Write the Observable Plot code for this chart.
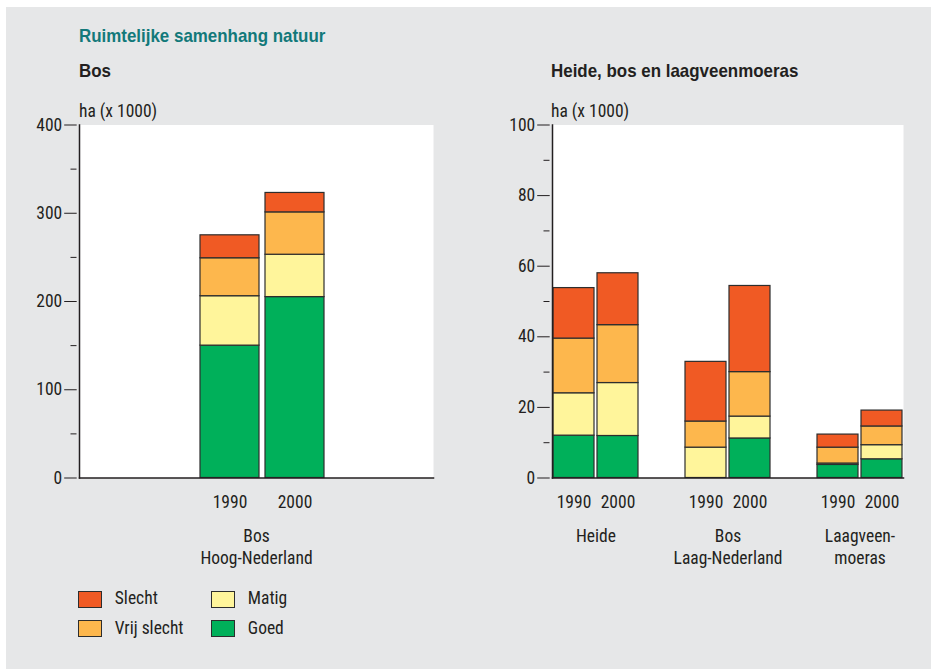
<!DOCTYPE html>
<html><head><meta charset="utf-8">
<script src="https://cdn.jsdelivr.net/npm/d3@7"></script>
<script src="https://cdn.jsdelivr.net/npm/@observablehq/plot@0.6"></script>
<style>
html,body{margin:0;padding:0;background:#fff;}
#wrap{position:relative;width:931px;height:671px;overflow:hidden;background:#fff;}
#bg{position:absolute;left:6px;top:7px;width:925px;height:662px;background:#e6e7e8;}
.t{position:absolute;white-space:nowrap;color:#231f20;line-height:1;transform-origin:0 0;}
.sw{position:absolute;width:22px;height:15px;border:1px solid #2d2d2d;}
.chart{position:absolute;top:100px;}
</style></head>
<body><div id="wrap"><div id="bg"></div></div>
<script>
// ---- data ----
const categories = ["Goed", "Matig", "Vrij slecht", "Slecht"];          // stack order, bottom to top
const colors = ["#00b05a", "#fff59b", "#fdb74d", "#f05a24"];
const legendOrder = ["Slecht", "Matig", "Vrij slecht", "Goed"];
const years = ["1990", "2000"];
const leftGroups = ["Bos\nHoog-Nederland"];
const rightGroups = ["Heide", "Bos\nLaag-Nederland", "Laagveen-\nmoeras"];
const leftTicks = [0, 100, 200, 300, 400];
const leftMinor = [50, 150, 250, 350];
const rightTicks = [0, 20, 40, 60, 80, 100];
const rightMinor = [10, 30, 50, 70, 90];

// left panel: Bos Hoog-Nederland (values per category, order as `categories`)
const bosHoog1990 = [150, 56, 43, 26];
const bosHoog2000 = [205, 48, 48, 22];
// right panel
const heide1990 = [12.0, 12.0, 15.5, 14.3];
const heide2000 = [11.9, 15.0, 16.4, 14.7];
const bosLaag1990 = [0, 8.6, 7.4, 16.9];
const bosLaag2000 = [11.2, 6.2, 12.6, 24.4];
const laagveen1990 = [3.7, 0.4, 4.5, 3.7];
const laagveen2000 = [5.3, 4.0, 5.3, 4.5];

function rows(group, year, vals) {
  return vals.map((v, i) => ({group, year, cat: categories[i], value: v}));
}
const leftData = [
  ...rows(leftGroups[0], years[0], bosHoog1990),
  ...rows(leftGroups[0], years[1], bosHoog2000)
];
const rightData = [
  ...rows(rightGroups[0], years[0], heide1990),
  ...rows(rightGroups[0], years[1], heide2000),
  ...rows(rightGroups[1], years[0], bosLaag1990),
  ...rows(rightGroups[1], years[1], bosLaag2000),
  ...rows(rightGroups[2], years[0], laagveen1990),
  ...rows(rightGroups[2], years[1], laagveen2000)
];

const wrap = document.getElementById("wrap");

const FAMILY = '"Roboto Condensed", "DejaVu Sans Condensed", "Liberation Sans", sans-serif';
const FS = 17.5;
const INK = "#231f20";

function addText(txt, x, baseline, opts = {}) {
  const d = document.createElement("div");
  d.className = "t";
  const fs = opts.size || FS;
  d.style.fontFamily = opts.family || FAMILY;
  d.style.fontSize = fs + "px";
  if (opts.bold) d.style.fontWeight = "bold";
  if (opts.color) d.style.color = opts.color;
  if (opts.scaleX) d.style.transform = `scaleX(${opts.scaleX})`;
  d.style.left = x + "px";
  d.style.top = (baseline - 0.85 * fs) + "px";
  d.textContent = txt;
  wrap.appendChild(d);
  return d;
}

// headings
const HEAD = {family: '"Liberation Sans", Arial, sans-serif', size: 18.6, bold: true, scaleX: 0.91};
addText("Ruimtelijke samenhang natuur", 79, 42.7, {...HEAD, color: "#12797a"});
addText("Bos", 79, 77.7, HEAD);
addText("Heide, bos en laagveenmoeras", 551, 77.7, HEAD);
addText("ha (x 1000)", 79, 117.5);
addText("ha (x 1000)", 551, 117.5);

function chart({data, groups, yDomain, ticks, minor, width, marginLeft, marginRight, fx, x}) {
  return Plot.plot({
    width, height: 480,
    marginLeft, marginRight, marginTop: 24.5, marginBottom: 102.5,
    style: {fontFamily: FAMILY, fontSize: FS + "px", color: INK, background: "transparent", overflow: "visible"},
    fx: {domain: groups, label: null, ...fx},
    x: {domain: years, label: null, ...x},
    y: {domain: yDomain, label: null},
    color: {domain: categories, range: colors},
    marks: [
      Plot.frame({fill: "white", stroke: null, facet: "super"}),
      Plot.barY(data, {fx: "group", x: "year", y: "value", fill: "cat", order: categories, stroke: "#2d2d2d", strokeWidth: 1.2}),
      Plot.frame({anchor: "bottom", facet: "super", stroke: INK, strokeWidth: 1.5}),
      Plot.frame({anchor: "left", facet: "super", stroke: INK, strokeWidth: 1.5}),
      Plot.axisY({ticks, tickSize: 12.5, tickPadding: 2.5, dx: -2.3, label: null, tickFormat: d => String(d)}),
      Plot.axisY({ticks: minor, tickSize: 6, dx: -2.5, label: null, tickFormat: () => ""}),
      Plot.axisX({tickSize: 0, tickPadding: 18, label: null}),
      Plot.axisFx({anchor: "bottom", tickSize: 0, tickPadding: 49, lineHeight: 1.24, label: null})
    ]
  });
}

const left = chart({
  data: leftData, groups: leftGroups, yDomain: [0, 400], ticks: leftTicks, minor: leftMinor,
  width: 470, marginLeft: 79, marginRight: 37,
  fx: {paddingInner: 0, paddingOuter: 0},
  x: {paddingInner: 0.092, paddingOuter: 1.769, align: 0.525}
});
left.classList.add("chart"); left.style.left = "0px";
wrap.appendChild(left);

const right = chart({
  data: rightData, groups: rightGroups, yDomain: [0, 100], ticks: rightTicks, minor: rightMinor,
  width: 461, marginLeft: 81, marginRight: 26,
  fx: {paddingInner: 0.338, paddingOuter: 0},
  x: {paddingInner: 0.06, paddingOuter: 0.015}
});
right.classList.add("chart"); right.style.left = "470px";
wrap.appendChild(right);

// legend
const legendPos = [[78.3, 590.7], [211.3, 590.7], [78.3, 620], [211.3, 620]];
legendOrder.forEach((cat, i) => {
  const [lx, ly] = legendPos[i];
  const s = document.createElement("div");
  s.className = "sw";
  s.style.left = lx + "px"; s.style.top = ly + "px";
  s.style.background = colors[categories.indexOf(cat)];
  wrap.appendChild(s);
  addText(cat, lx + 36.5, ly + 14.5);
});
</script>
</body></html>
